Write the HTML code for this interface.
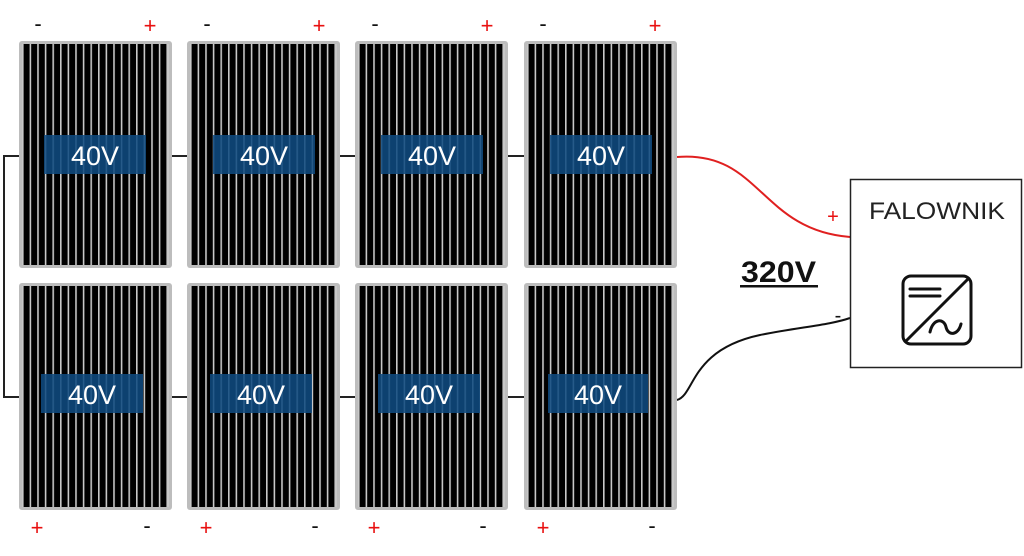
<!DOCTYPE html>
<html><head><meta charset="utf-8"><style>
html,body{margin:0;padding:0;background:#fff;width:1024px;height:556px;overflow:hidden}
svg{display:block}
text{font-family:"Liberation Sans",sans-serif}
</style></head><body>
<svg width="1024" height="556" viewBox="0 0 1024 556" xmlns="http://www.w3.org/2000/svg">
<defs>
<pattern id="st" patternUnits="userSpaceOnUse" width="7.6" height="10" x="3" y="0">
<rect width="7.6" height="10" fill="#000"/>
<rect x="0" width="1.6" height="10" fill="#c8c8c8"/>
</pattern>
<g id="panel">
<rect x="0" y="0" width="153" height="227" rx="3" fill="#bdbdbd"/>
<rect x="3" y="3" width="147" height="221" fill="url(#st)"/>
<rect x="148.5" y="3" width="1.5" height="221" fill="#c8c8c8"/>
</g>
</defs>
<g stroke="#222" stroke-width="2" fill="none">
<path d="M19 156 H4 V397 H19"/>
<path d="M172 156 H188 M340 156 H356 M508 156 H524"/>
<path d="M172 397 H188 M340 397 H356 M508 397 H524"/>
</g>
<path d="M677 157 C760 150 760 230 850 237" stroke="#e02020" stroke-width="2" fill="none"/>
<path d="M677 400 C695 395 690 350 760 335 C800 327 830 325 850 318" stroke="#111" stroke-width="2" fill="none"/>
<use href="#panel" x="19" y="41"/>
<use href="#panel" x="187" y="41"/>
<use href="#panel" x="355" y="41"/>
<use href="#panel" x="524" y="41"/>
<use href="#panel" x="19" y="283"/>
<use href="#panel" x="187" y="283"/>
<use href="#panel" x="355" y="283"/>
<use href="#panel" x="524" y="283"/>
<g fill="#0f4a80" fill-opacity="0.88">
<rect x="44" y="135" width="102" height="39"/>
<rect x="213" y="135" width="102" height="39"/>
<rect x="381" y="135" width="102" height="39"/>
<rect x="550" y="135" width="102" height="39"/>
<rect x="41" y="374" width="102" height="39"/>
<rect x="210" y="374" width="102" height="39"/>
<rect x="378" y="374" width="102" height="39"/>
<rect x="548" y="374" width="100" height="39"/>
</g>
<g fill="#fff" font-size="27" text-anchor="middle">
<text x="95" y="165">40V</text>
<text x="264" y="165">40V</text>
<text x="432" y="165">40V</text>
<text x="601" y="165">40V</text>
<text x="92" y="404">40V</text>
<text x="261" y="404">40V</text>
<text x="429" y="404">40V</text>
<text x="598" y="404">40V</text>
</g>
<g font-size="22" text-anchor="middle">
<g fill="#111"><text x="38" y="31">-</text><text x="207" y="31">-</text><text x="375" y="31">-</text><text x="543" y="31">-</text>
<text x="147" y="533">-</text><text x="315" y="533">-</text><text x="483" y="533">-</text><text x="652" y="533">-</text>
<text x="838" y="322" font-size="20">-</text></g>
<g fill="#e81010"><text x="150" y="33">+</text><text x="319" y="33">+</text><text x="487" y="33">+</text><text x="655" y="33">+</text>
<text x="37" y="535">+</text><text x="206" y="535">+</text><text x="374" y="535">+</text><text x="543" y="535">+</text>
<text x="833" y="223" font-size="20">+</text></g>
</g>
<text x="741" y="282" font-size="30" font-weight="bold" fill="#111" textLength="75" lengthAdjust="spacingAndGlyphs">320V</text>
<rect x="740" y="285" width="78" height="2.5" fill="#111"/>
<rect x="850.5" y="179.5" width="171" height="188" fill="#fff" stroke="#222" stroke-width="1.5"/>
<text x="937" y="219" font-size="24" text-anchor="middle" fill="#222" textLength="136" lengthAdjust="spacingAndGlyphs">FALOWNIK</text>
<g stroke="#111" stroke-width="3" fill="none" stroke-linecap="round">
<rect x="903" y="276" width="68" height="68" rx="8"/>
<path d="M906 341 L968 279"/>
<path d="M910 289 H940 M910 296 H940"/>
<path d="M930 332 C933 318 944 318 946 327 C948 336 958 336 961 324"/>
</g>
</svg>
</body></html>
